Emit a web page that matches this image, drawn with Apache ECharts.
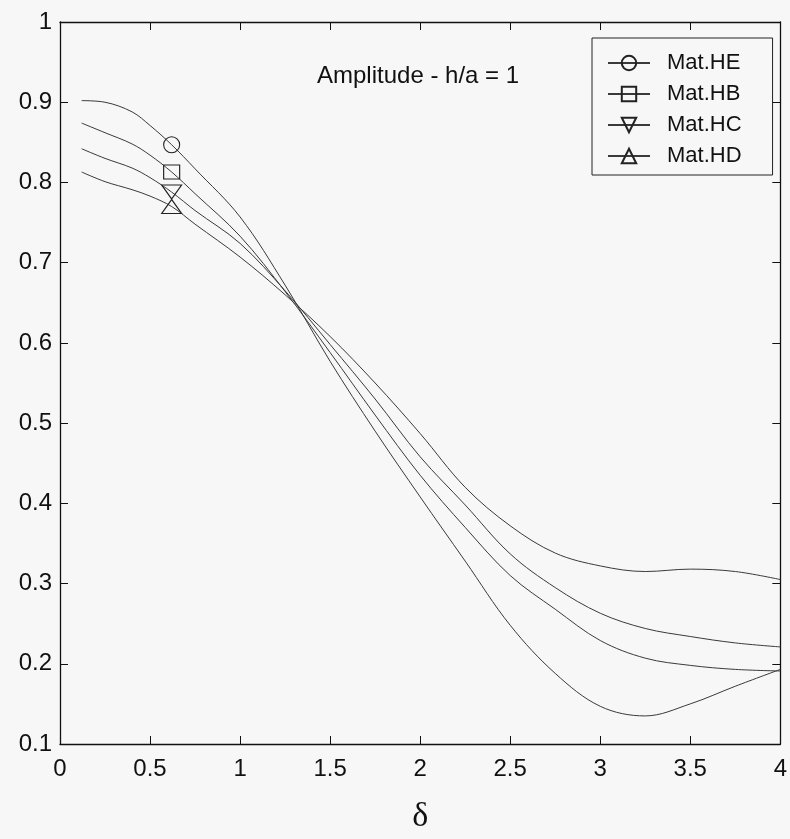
<!DOCTYPE html>
<html>
<head>
<meta charset="utf-8">
<script src="https://cdn.jsdelivr.net/npm/echarts@6/dist/echarts.min.js"></script>
<style>
html,body{margin:0;padding:0;background:#f7f7f7;}
#chart{width:790px;height:839px;}
</style>
</head>
<body>
<div id="chart"></div>
<script>
// Data
var xValues = [0.12, 0.25, 0.4, 0.5, 0.62, 0.75, 1.0, 1.25, 1.5, 1.75, 2.0, 2.25, 2.5, 2.75, 3.0, 3.25, 3.5, 3.75, 4.0];
var matHE = [0.902, 0.900, 0.888, 0.871, 0.847, 0.817, 0.757, 0.672, 0.577, 0.490, 0.408, 0.328, 0.248, 0.188, 0.147, 0.135, 0.150, 0.172, 0.193];
var matHB = [0.874, 0.862, 0.848, 0.834, 0.813, 0.786, 0.733, 0.664, 0.588, 0.510, 0.435, 0.370, 0.310, 0.268, 0.229, 0.207, 0.198, 0.193, 0.191];
var matHC = [0.842, 0.830, 0.818, 0.806, 0.788, 0.765, 0.724, 0.665, 0.598, 0.530, 0.458, 0.398, 0.337, 0.295, 0.263, 0.244, 0.234, 0.226, 0.221];
var matHD = [0.813, 0.801, 0.791, 0.783, 0.770, 0.748, 0.707, 0.660, 0.608, 0.550, 0.487, 0.420, 0.372, 0.338, 0.322, 0.315, 0.318, 0.315, 0.305];
var seriesNames = ['Mat.HE', 'Mat.HB', 'Mat.HC', 'Mat.HD'];
var markerIndex = 4; // the single marker drawn on each curve (x = 0.62)
var xTicks = {min: 0, max: 4, interval: 0.5};
var yTicks = {min: 0.1, max: 1, interval: 0.1};
var titleText = 'Amplitude - h/a = 1';
var xName = 'δ';

var allValues = [matHE, matHB, matHC, matHD];
var symbols = ['circle', 'rect', 'triangle', 'triangle'];
var rotations = [0, 0, 180, 0];
var sizes = [16, [16, 14], [20, 14], [20, 14]];

function pairs(ys) {
  return xValues.map(function (x, i) { return [x, ys[i]]; });
}

var series = seriesNames.map(function (name, k) {
  return {
    name: name,
    type: 'line',
    smooth: 0.35,
    data: pairs(allValues[k]),
    symbol: symbols[k],
    symbolRotate: rotations[k],
    symbolSize: function (val, params) {
      return params.dataIndex === markerIndex ? sizes[k] : 0;
    },
    showSymbol: true,
    showAllSymbol: true,
    lineStyle: {color: '#3a3a3a', width: 1},
    itemStyle: {color: 'rgba(0,0,0,0)', borderColor: '#222', borderWidth: 1.1},
    emphasis: {disabled: true},
    z: 3
  };
});

var chart = echarts.init(document.getElementById('chart'), null, {renderer: 'canvas'});
var axisLine = {show: true, onZero: false, lineStyle: {color: '#111', width: 1.3}};
var tick = {show: true, inside: true, length: 8, lineStyle: {color: '#111', width: 1}};
chart.setOption({
  backgroundColor: '#f7f7f7',
  animation: false,
  title: {
    text: titleText,
    left: 312, top: 59,
    textStyle: {fontFamily: 'Liberation Sans, Arial, sans-serif', fontSize: 24, fontWeight: 'normal', color: '#111'}
  },
  legend: {
    orient: 'vertical',
    left: 592, top: 38,
    itemWidth: 42, itemHeight: 18, itemGap: 9,
    padding: [14, 31, 8, 15],
    borderColor: '#222', borderWidth: 1,
    backgroundColor: 'rgba(0,0,0,0)',
    textStyle: {fontFamily: 'Liberation Sans, Arial, sans-serif', fontSize: 22, color: '#111', padding: [0, 0, 0, 12]},
    data: seriesNames
  },
  grid: {left: 60, right: 9, top: 22, bottom: 94, containLabel: false},
  xAxis: [{
    type: 'value', position: 'bottom',
    min: xTicks.min, max: xTicks.max, interval: xTicks.interval,
    name: xName, nameLocation: 'middle', nameGap: 56,
    nameTextStyle: {fontFamily: 'Liberation Serif, Times New Roman, serif', fontSize: 34, color: '#111'},
    axisLine: axisLine, axisTick: tick, splitLine: {show: false},
    axisLabel: {fontFamily: 'Liberation Sans, Arial, sans-serif', fontSize: 24, color: '#111', margin: 13}
  }, {
    type: 'value', position: 'top',
    min: xTicks.min, max: xTicks.max, interval: xTicks.interval,
    axisLine: axisLine, axisTick: tick, splitLine: {show: false}, axisLabel: {show: false}
  }],
  yAxis: [{
    type: 'value', position: 'left',
    min: yTicks.min, max: yTicks.max, interval: yTicks.interval,
    axisLine: axisLine, axisTick: tick, splitLine: {show: false},
    axisLabel: {fontFamily: 'Liberation Sans, Arial, sans-serif', fontSize: 24, color: '#111', margin: 8}
  }, {
    type: 'value', position: 'right',
    min: yTicks.min, max: yTicks.max, interval: yTicks.interval,
    axisLine: axisLine, axisTick: tick, splitLine: {show: false}, axisLabel: {show: false}
  }],
  series: series
});
</script>
</body>
</html>
